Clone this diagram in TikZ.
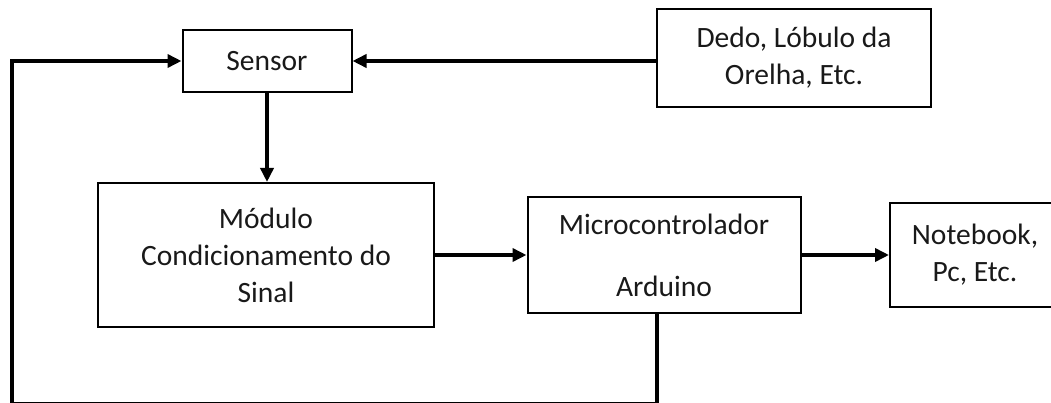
\documentclass[tikz,border=0pt]{standalone}
\usepackage{fontspec}
\setmainfont{Carlito}
\usetikzlibrary{arrows.meta}
\begin{document}
\begin{tikzpicture}[x=1pt,y=-1pt,
  blk/.style={draw=black,line width=2pt,rectangle,align=center,inner sep=0pt,
    font=\fontsize{29.5}{37}\selectfont,text=black!90},
  arr/.style={line width=3.6pt,-{Triangle[length=14pt,width=13pt]}}]
\useasboundingbox (0,0) rectangle (1051,403);
\clip (0,0) rectangle (1051,403);
\node[blk,minimum width=169pt,minimum height=62pt] (Sensor) at (267,61) {Sensor};
\node[blk,minimum width=274pt,minimum height=98pt] (Dedo) at (794,58) {Dedo, Lóbulo da\\Orelha, Etc.};
\node[blk,minimum width=336pt,minimum height=144pt] (Modulo) at (266,255) {Módulo\\Condicionamento do\\Sinal};
\node[blk,minimum width=273pt,minimum height=116pt] (Arduino) at (664,255) {Microcontrolador\\[25pt]Arduino};
\node[blk,minimum width=170pt,minimum height=104pt] (Note) at (975,255) {Notebook,\\Pc, Etc.};
\coordinate (fb1) at (657,403.4);
\coordinate (fb2) at (12,403.4);
\draw[arr] (Dedo.west |- Sensor.east) -- (Sensor.east);
\draw[arr] (Sensor.south) -- (Sensor.south |- Modulo.north);
\draw[arr] (Modulo.east |- Arduino.west) -- (Arduino.west);
\draw[arr] (Arduino.east) -- (Note.west);
\draw[arr] (Arduino.south -| fb1) -- (fb1) -- (fb2) -- (fb2 |- Sensor.west) -- (Sensor.west);
\end{tikzpicture}
\end{document}
